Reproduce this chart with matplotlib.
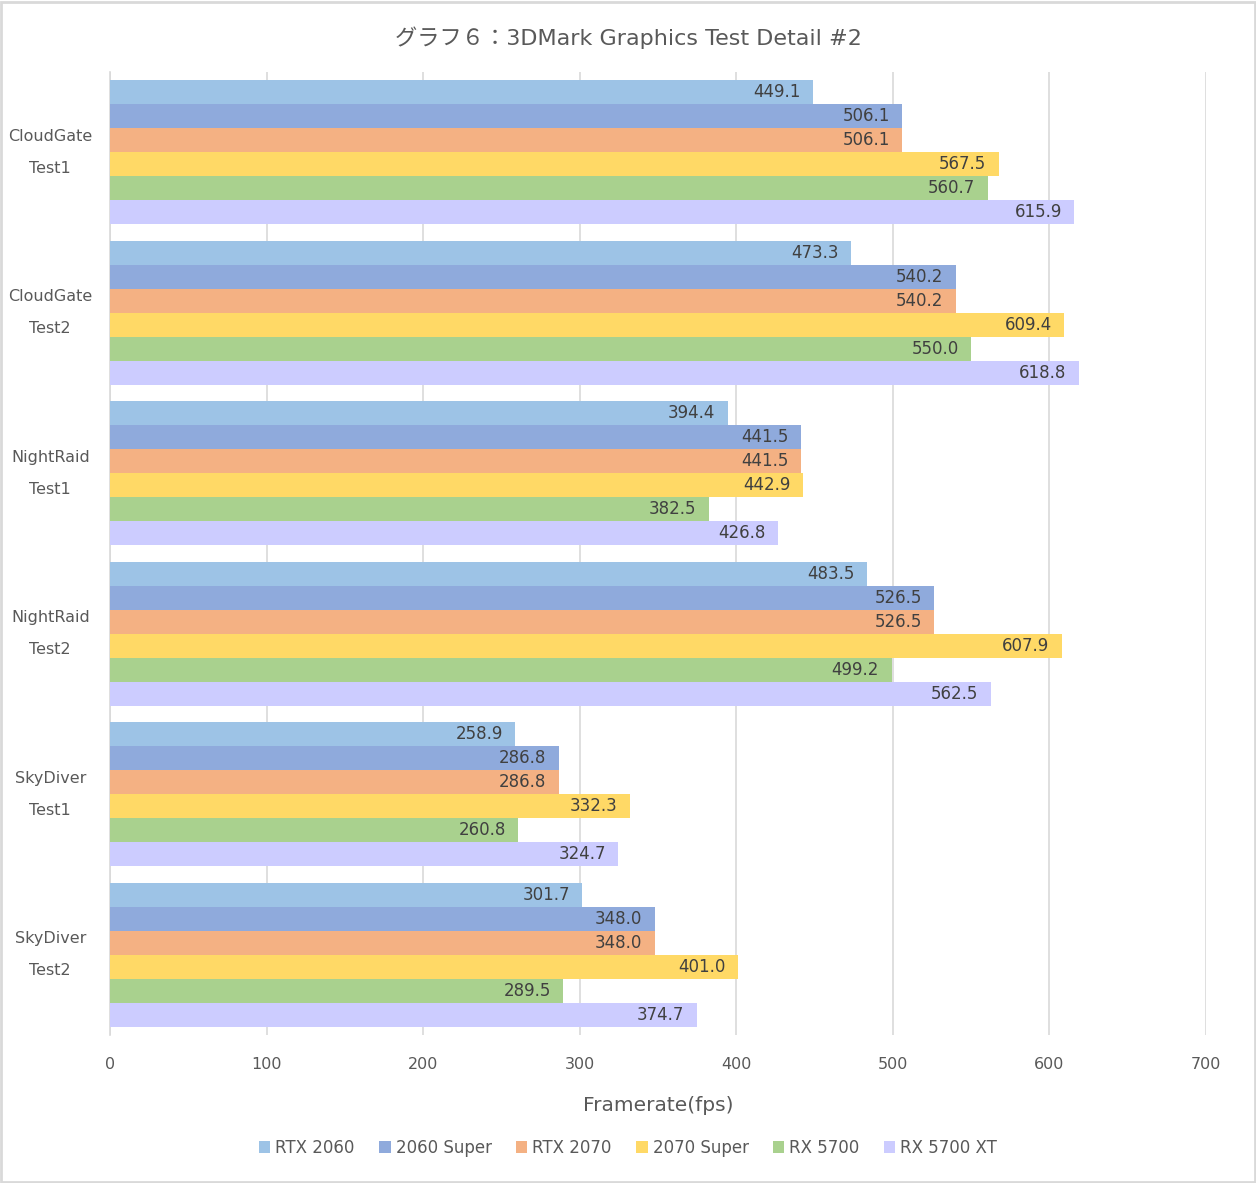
import matplotlib
matplotlib.use("Agg")
import matplotlib.pyplot as plt
import numpy as np
from matplotlib.patches import Rectangle

plt.rcParams['font.family'] = ['DejaVu Sans', 'Noto Sans CJK JP']

categories = ["CloudGate\nTest1", "CloudGate\nTest2", "NightRaid\nTest1",
              "NightRaid\nTest2", "SkyDiver\nTest1", "SkyDiver\nTest2"]
series_names = ["RTX 2060", "2060 Super", "RTX 2070", "2070 Super", "RX 5700", "RX 5700 XT"]
rtx2060 = [449.1, 473.3, 394.4, 483.5, 258.9, 301.7]
s2060 = [506.1, 540.2, 441.5, 526.5, 286.8, 348.0]
rtx2070 = [506.1, 540.2, 441.5, 526.5, 286.8, 348.0]
s2070 = [567.5, 609.4, 442.9, 607.9, 332.3, 401.0]
rx5700 = [560.7, 550.0, 382.5, 499.2, 260.8, 289.5]
rx5700xt = [615.9, 618.8, 426.8, 562.5, 324.7, 374.7]
xticks = [0, 100, 200, 300, 400, 500, 600, 700]

series = [rtx2060, s2060, rtx2070, s2070, rx5700, rx5700xt]
colors = ["#9DC3E6", "#8FAADC", "#F4B183", "#FFD966", "#A9D18E", "#CCCCFF"]

fig = plt.figure(figsize=(12.56, 11.83), dpi=100)
fig.patches.append(Rectangle((0.001, 0.001), 0.998, 0.997, transform=fig.transFigure,
                             fill=False, edgecolor="#D9D9D9", linewidth=2))
ax = fig.add_axes([110/1256, 1-1035/1183, 1096/1256, (1035-72)/1183])

ncat = len(categories)
nser = len(series)
group = 0.9
bh = group / nser
for j, (vals, c, name) in enumerate(zip(series, colors, series_names)):
    y = np.arange(ncat) + (j - (nser - 1) / 2) * bh
    ax.barh(y, vals, height=bh, color=c, label=name, zorder=3)
    for yy, v in zip(y, vals):
        ax.annotate(f"{v:.1f}", xy=(v, yy), xytext=(-9, 0), textcoords="offset points",
                    ha="right", va="center", fontsize=12, color="#404040", zorder=4)

ax.set_ylim(ncat - 0.5, -0.5)
ax.set_xlim(0, 700)
ax.set_xticks(xticks)
ax.set_xticklabels([str(t) for t in xticks])
ax.set_yticks(np.arange(ncat))
ax.set_yticklabels(categories, linespacing=2.4, ha="center", va="center")
ax.tick_params(axis="y", length=0, pad=43, labelsize=11.5, labelcolor="#595959")
ax.tick_params(axis="x", length=0, pad=16, labelsize=11.5, labelcolor="#595959")
ax.grid(axis="x", color="#D9D9D9", linewidth=1.2, zorder=0)
for s in ["top", "right", "bottom"]:
    ax.spines[s].set_visible(False)
ax.spines["left"].set_color("#D9D9D9")
ax.spines["left"].set_linewidth(1.2)

ax.set_xlabel("Framerate(fps)", fontsize=14.5, color="#595959", labelpad=17)
fig.text(0.5, 1-38/1183, "グラフ６：3DMark Graphics Test Detail #2", ha="center", va="center",
         fontsize=16, color="#595959")

handles, labels = ax.get_legend_handles_labels()
fig.legend(handles, labels, loc="center", bbox_to_anchor=(0.5, 1-1148/1183), ncol=6,
           frameon=False, fontsize=12, labelcolor="#595959", handlelength=0.7,
           handleheight=0.7, handletextpad=0.3, columnspacing=1.45)

fig.savefig("out.png", dpi=100, facecolor="white")
